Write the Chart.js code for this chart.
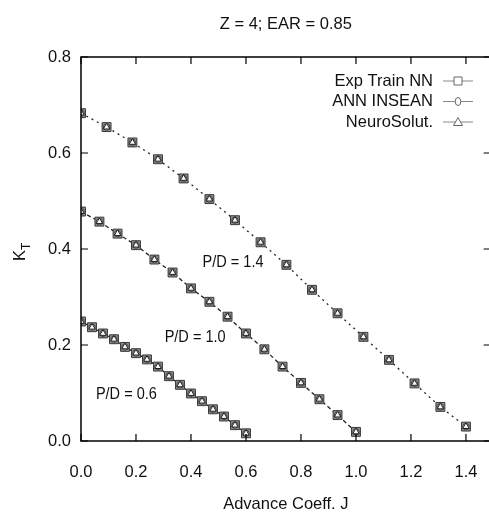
<!DOCTYPE html>
<html>
<head>
<meta charset="utf-8">
<script src="https://cdn.jsdelivr.net/npm/chart.js@4.4.1/dist/chart.umd.min.js"></script>
<style>
  html, body { margin: 0; padding: 0; background: #fff; overflow: hidden; }
</style>
</head>
<body>
<canvas id="chart" width="498" height="516"></canvas>
<script>
// advance coefficient J for each pitch ratio curve
const J_06 = [0, 0.04, 0.08, 0.12, 0.16, 0.2, 0.24, 0.28, 0.32, 0.36, 0.4, 0.44, 0.48, 0.52, 0.56, 0.6];
const J_10 = [0, 0.067, 0.133, 0.2, 0.267, 0.333, 0.4, 0.467, 0.533, 0.6, 0.667, 0.733, 0.8, 0.867, 0.933, 1.0];
const J_14 = [0, 0.093, 0.187, 0.28, 0.373, 0.467, 0.56, 0.653, 0.747, 0.84, 0.933, 1.027, 1.12, 1.213, 1.307, 1.4];

// thrust coefficient KT
const KT_06 = [0.249, 0.237, 0.224, 0.212, 0.196, 0.183, 0.170, 0.155, 0.135, 0.117, 0.099, 0.083, 0.066, 0.051, 0.033, 0.016];
const KT_10 = [0.478, 0.457, 0.432, 0.408, 0.378, 0.351, 0.318, 0.290, 0.259, 0.224, 0.191, 0.155, 0.121, 0.087, 0.054, 0.019];
const KT_14 = [0.683, 0.654, 0.622, 0.587, 0.547, 0.504, 0.460, 0.414, 0.367, 0.315, 0.266, 0.217, 0.169, 0.120, 0.071, 0.030];

const CURVES = [
    { j: J_06, kt: KT_06, dash: [] },
    { j: J_10, kt: KT_10, dash: [4, 3] },
    { j: J_14, kt: KT_14, dash: [2, 4] },
];

const SERIES = ['Exp Train NN', 'ANN INSEAN', 'NeuroSolut.'];
const SERIES_STYLE = [
    { pointStyle: 'rect', radius: 6.3, fill: '#8e8e8e', stroke: '#3a3a3a' },
    { pointStyle: 'circle', radius: 3.2, fill: 'rgba(255,255,255,0.55)', stroke: '#444' },
    { pointStyle: 'triangle', radius: 3.8, fill: 'rgba(255,255,255,0.85)', stroke: '#222' },
];

const X_TICKS = [0, 0.2, 0.4, 0.6, 0.8, 1.0, 1.2, 1.4];
const Y_TICKS = [0, 0.2, 0.4, 0.6, 0.8];

const PD_LABELS = [
    { text: 'P/D = 1.4', x: 0.553, y: 0.372 },
    { text: 'P/D = 1.0', x: 0.415, y: 0.216 },
    { text: 'P/D = 0.6', x: 0.165, y: 0.098 },
];

const TITLE = 'Z = 4; EAR = 0.85';
const FAMILY = '"Liberation Sans", Arial, sans-serif';
const FONT = '16.5px ' + FAMILY;

const toPoints = c => c.j.map((x, i) => ({ x: x, y: c.kt[i] }));

const datasets = [];
CURVES.forEach(c => {
    datasets.push({
        label: '',
        data: toPoints(c),
        showLine: true,
        borderColor: '#222',
        borderWidth: 1.3,
        borderDash: c.dash,
        pointRadius: 0,
        order: 5,
    });
});
SERIES.forEach((name, s) => {
    const st = SERIES_STYLE[s];
    datasets.push({
        label: name,
        data: CURVES.flatMap(toPoints),
        showLine: false,
        pointStyle: st.pointStyle,
        pointRadius: st.radius,
        pointHoverRadius: st.radius,
        backgroundColor: st.fill,
        borderColor: st.stroke,
        borderWidth: 1,
        order: 3 - s,
    });
});

const noPad = s => { s.paddingLeft = 0; s.paddingRight = 0; s.paddingTop = 0; s.paddingBottom = 0; };

const frame = {
    id: 'frame',
    afterDraw(chart) {
        const { ctx, chartArea: a, scales } = chart;
        const xs = scales.x, ys = scales.y;
        ctx.save();
        ctx.strokeStyle = '#000';
        ctx.lineWidth = 1.5;
        ctx.strokeRect(a.left, a.top, a.right - a.left, a.bottom - a.top);
        ctx.lineWidth = 1.2;
        const tl = 7;
        ctx.beginPath();
        X_TICKS.forEach(v => {
            const px = xs.getPixelForValue(v);
            ctx.moveTo(px, a.bottom); ctx.lineTo(px, a.bottom - tl);
            ctx.moveTo(px, a.top); ctx.lineTo(px, a.top + tl);
        });
        Y_TICKS.forEach(v => {
            const py = ys.getPixelForValue(v);
            ctx.moveTo(a.left, py); ctx.lineTo(a.left + tl, py);
            ctx.moveTo(a.right, py); ctx.lineTo(a.right - tl, py);
        });
        ctx.stroke();

        // title over the plot area
        ctx.fillStyle = '#111';
        ctx.font = FONT;
        ctx.textAlign = 'center';
        ctx.textBaseline = 'middle';
        ctx.fillText(TITLE, (a.left + a.right) / 2, 24);

        // y axis title K_T
        ctx.save();
        ctx.translate(22, ys.getPixelForValue(0.4));
        ctx.rotate(-Math.PI / 2);
        ctx.textAlign = 'left';
        ctx.font = FONT;
        ctx.fillText('K', -12, -2);
        ctx.font = '12px ' + FAMILY;
        ctx.fillText('T', -1, 5);
        ctx.restore();

        // pitch ratio labels (narrow face like the original)
        ctx.font = FONT;
        ctx.textAlign = 'center';
        PD_LABELS.forEach(l => {
            ctx.save();
            ctx.translate(xs.getPixelForValue(l.x), ys.getPixelForValue(l.y));
            ctx.scale(0.88, 1);
            ctx.fillText(l.text, 0, 0);
            ctx.restore();
        });

        // legend, text right aligned with sample on the right
        const rowY = [81, 101.5, 122];
        SERIES.forEach((name, s) => {
            const y = rowY[s];
            ctx.fillStyle = '#111';
            ctx.textAlign = 'right';
            ctx.fillText(name, 433, y);
            ctx.strokeStyle = '#888';
            ctx.lineWidth = 1;
            ctx.beginPath();
            ctx.moveTo(443, y); ctx.lineTo(473, y);
            ctx.stroke();
            const st = SERIES_STYLE[s];
            ctx.strokeStyle = '#666';
            ctx.fillStyle = '#fff';
            ctx.beginPath();
            if (st.pointStyle === 'rect') {
                ctx.rect(454, y - 4, 8, 8);
            } else if (st.pointStyle === 'circle') {
                ctx.ellipse(458, y, 2.8, 4, 0, 0, Math.PI * 2);
            } else {
                ctx.moveTo(458, y - 4.5); ctx.lineTo(462.5, y + 3.5); ctx.lineTo(453.5, y + 3.5); ctx.closePath();
            }
            ctx.fill();
            ctx.stroke();
        });
        ctx.restore();
    }
};

new Chart(document.getElementById('chart'), {
    type: 'scatter',
    data: { datasets: datasets },
    plugins: [frame],
    options: {
        responsive: false,
        animation: false,
        layout: { padding: { top: 57, right: 1, left: 0, bottom: 0 } },
        plugins: {
            legend: { display: false },
            tooltip: { enabled: false },
        },
        scales: {
            x: {
                type: 'linear',
                min: 0,
                max: 1.49,
                afterFit: s => { s.height = 75; noPad(s); },
                afterBuildTicks: s => { s.ticks = X_TICKS.map(v => ({ value: v })); },
                grid: { display: false },
                border: { display: false },
                ticks: {
                    color: '#111',
                    font: { family: FAMILY, size: 16.5 },
                    padding: 14,
                    maxRotation: 0,
                    callback: v => v.toFixed(1),
                },
                title: {
                    display: true,
                    text: 'Advance Coeff. J',
                    color: '#111',
                    font: { family: FAMILY, size: 16.5 },
                    padding: { top: 0, bottom: 2 },
                },
            },
            y: {
                type: 'linear',
                min: 0,
                max: 0.8,
                afterFit: s => { s.width = 81; noPad(s); },
                afterBuildTicks: s => { s.ticks = Y_TICKS.map(v => ({ value: v })); },
                grid: { display: false },
                border: { display: false },
                ticks: {
                    color: '#111',
                    font: { family: FAMILY, size: 16.5 },
                    padding: 2,
                    callback: v => v.toFixed(1),
                },
            },
        },
    },
});
</script>
</body>
</html>
